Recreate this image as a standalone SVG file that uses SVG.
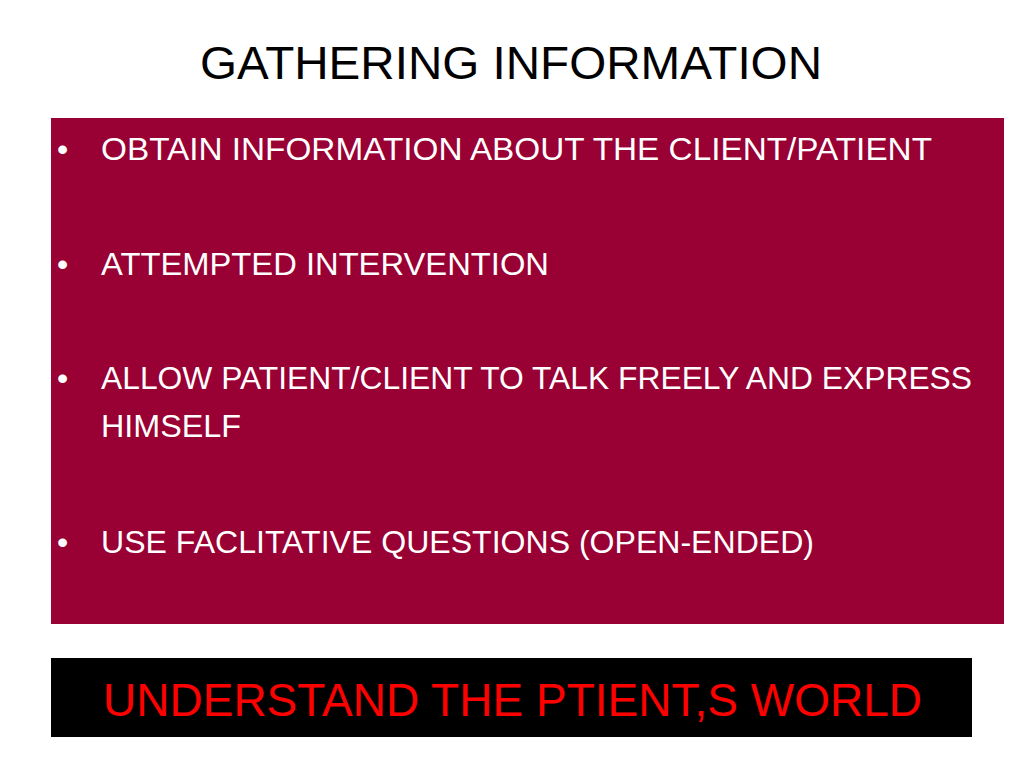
<svg xmlns="http://www.w3.org/2000/svg" width="1024" height="768" viewBox="0 0 1024 768">
<style>
.t{font-family:"Liberation Sans",Arial,sans-serif;}
.b{font-size:32px;fill:#fff;}
</style>
<rect width="1024" height="768" fill="#fff"/>
<g id="title"><text class="t" x="200" y="79" font-size="46" textLength="622" lengthAdjust="spacingAndGlyphs">GATHERING INFORMATION</text></g>
<g id="box">
<rect x="51" y="118" width="953" height="506" fill="#990033"/>
<g class="t b">
<text x="57" y="160">•</text><text x="101" y="160" textLength="831" lengthAdjust="spacingAndGlyphs">OBTAIN INFORMATION ABOUT THE CLIENT/PATIENT</text>
<text x="57" y="275">•</text><text x="101" y="275" textLength="448" lengthAdjust="spacingAndGlyphs">ATTEMPTED INTERVENTION</text>
<text x="57" y="389">•</text><text x="101" y="389" textLength="871" lengthAdjust="spacingAndGlyphs">ALLOW PATIENT/CLIENT TO TALK FREELY AND EXPRESS</text>
<text x="101" y="437" textLength="140" lengthAdjust="spacingAndGlyphs">HIMSELF</text>
<text x="57" y="553">•</text><text x="101" y="553" textLength="713" lengthAdjust="spacingAndGlyphs">USE FACLITATIVE QUESTIONS (OPEN-ENDED)</text>
</g>
</g>
<g id="banner">
<rect x="51" y="658" width="921" height="79" fill="#000"/>
<text class="t" x="103" y="716" font-size="46" fill="#ff0000" textLength="819" lengthAdjust="spacingAndGlyphs">UNDERSTAND THE PTIENT,S WORLD</text>
</g>
</svg>
